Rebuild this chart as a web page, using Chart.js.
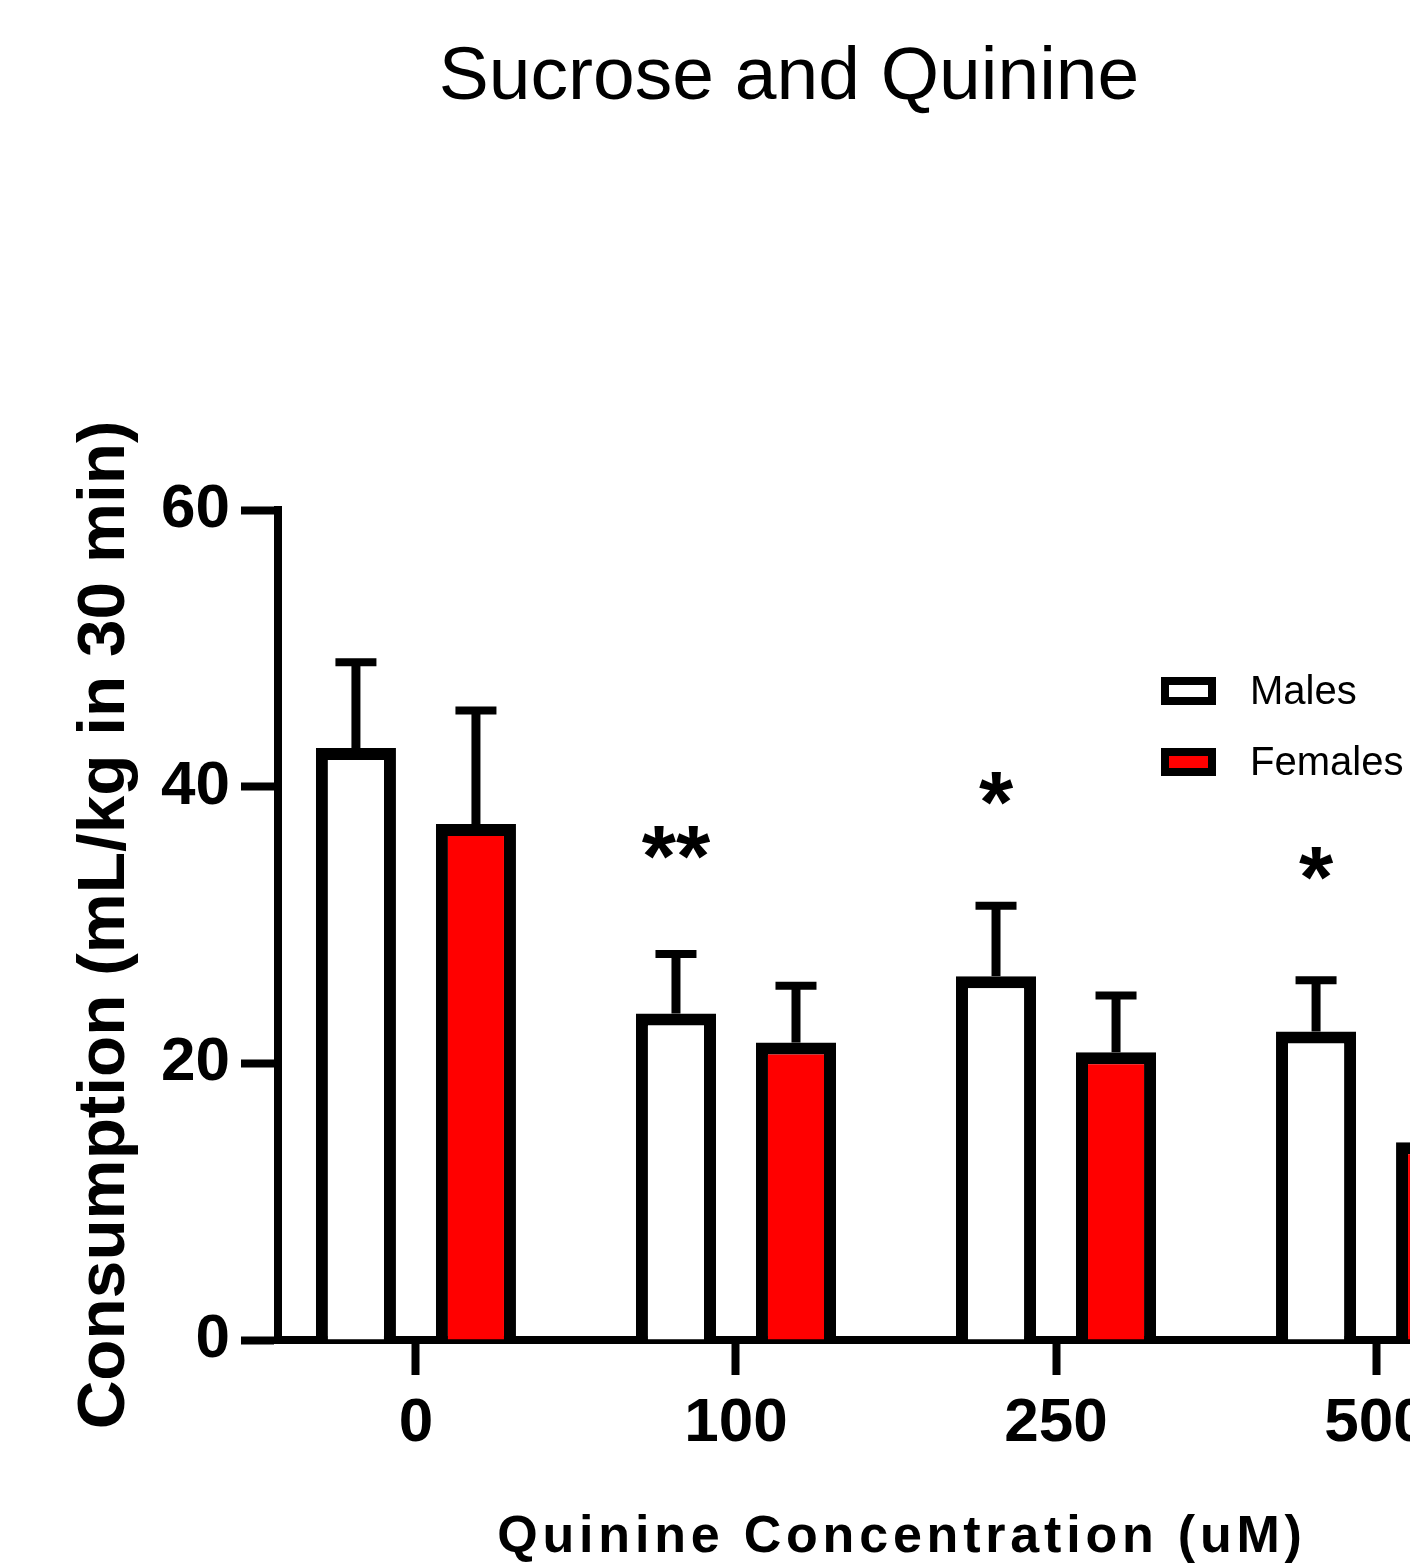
<!DOCTYPE html>
<html>
<head>
<meta charset="utf-8">
<script src="https://cdn.jsdelivr.net/npm/chart.js@4.4.1/dist/chart.umd.min.js"></script>
<style>
  html, body { margin: 0; padding: 0; background: #fff; overflow: hidden; }
</style>
</head>
<body>
<canvas id="chart" width="1578" height="1600" style="width:1578px;height:1600px;display:block"></canvas>
<script>
// quinine concentrations (uM) and group means / SEM
const categories = ["0", "100", "250", "500"];
const malesMean = [42.8, 23.6, 26.3, 22.3];
const malesSem = [6.2, 4.3, 5.1, 3.7];
const femalesMean = [37.3, 21.5, 20.8, 14.3];
const femalesSem = [8.2, 4.1, 4.1, 4.0];
// significance marks over the male bars
const sigMarks = ["", "**", "*", "*"];
const sigLevel = [null, 32.8, 36.7, 31.3];

const FONT = "'Liberation Sans', Arial, sans-serif";
Chart.defaults.font.family = FONT;
Chart.defaults.color = "#000";

const toPoints = (arr) => arr.map((v, i) => ({ x: i, y: v }));

const errorBars = {
  id: "errorBars",
  afterDatasetsDraw(chart) {
    const ctx = chart.ctx;
    const y = chart.scales.y;
    chart.data.datasets.forEach((ds, di) => {
      const meta = chart.getDatasetMeta(di);
      meta.data.forEach((bar, i) => {
        const top = y.getPixelForValue(ds.data[i].y + ds.sem[i]);
        ctx.save();
        ctx.strokeStyle = "#000";
        ctx.lineWidth = 9;
        ctx.beginPath();
        ctx.moveTo(bar.x, bar.y);
        ctx.lineTo(bar.x, top);
        ctx.stroke();
        ctx.lineWidth = 8;
        ctx.beginPath();
        ctx.moveTo(bar.x - 20.5, top);
        ctx.lineTo(bar.x + 20.5, top);
        ctx.stroke();
        ctx.restore();
      });
    });
  }
};

const sigStars = {
  id: "sigStars",
  afterDatasetsDraw(chart) {
    const ctx = chart.ctx;
    const y = chart.scales.y;
    const meta = chart.getDatasetMeta(0);
    ctx.save();
    ctx.fillStyle = "#000";
    ctx.font = "bold 88px " + FONT;
    ctx.textAlign = "center";
    ctx.textBaseline = "alphabetic";
    sigMarks.forEach((m, i) => {
      if (!m) return;
      ctx.fillText(m, meta.data[i].x, y.getPixelForValue(sigLevel[i]));
    });
    ctx.restore();
  }
};

const boxLegend = {
  id: "boxLegend",
  afterDraw(chart) {
    const ctx = chart.ctx;
    ctx.save();
    chart.data.datasets.forEach((ds, i) => {
      const yc = 691 + i * 71;
      ctx.fillStyle = "#000";
      ctx.fillRect(1161, yc - 14, 55, 28);
      ctx.fillStyle = ds.backgroundColor;
      ctx.fillRect(1169, yc - 6, 39, 12);
      ctx.fillStyle = "#000";
      ctx.font = "40px " + FONT;
      ctx.textAlign = "left";
      ctx.textBaseline = "middle";
      ctx.fillText(ds.label, 1250, yc + 2);
    });
    ctx.restore();
  }
};

const xTitle = {
  id: "xTitle",
  afterDraw(chart) {
    const ctx = chart.ctx;
    const a = chart.chartArea;
    ctx.save();
    ctx.fillStyle = "#000";
    ctx.font = "bold 52px " + FONT;
    ctx.letterSpacing = "4.8px";
    ctx.textAlign = "center";
    ctx.textBaseline = "alphabetic";
    ctx.fillText("Quinine Concentration (uM)", (a.left + a.right) / 2 + 6, 1552);
    ctx.restore();
  }
};

new Chart(document.getElementById("chart"), {
  type: "bar",
  data: {
    datasets: [
      {
        label: "Males",
        data: toPoints(malesMean),
        sem: malesSem,
        backgroundColor: "#ffffff",
        borderColor: "#000000",
        borderWidth: 12,
      },
      {
        label: "Females",
        data: toPoints(femalesMean),
        sem: femalesSem,
        backgroundColor: "#ff0000",
        borderColor: "#000000",
        borderWidth: 12,
      },
    ],
  },
  options: {
    responsive: false,
    animation: false,
    events: [],
    categoryPercentage: 0.75,
    barPercentage: 0.667,
    layout: { padding: { left: 64, right: 64, top: 0, bottom: 0 } },
    plugins: {
      legend: { display: false },
      tooltip: { enabled: false },
      title: {
        display: true,
        text: "Sucrose and Quinine",
        color: "#000",
        font: { size: 75, weight: "normal", lineHeight: 1.2 },
        padding: { top: 33, bottom: 387 },
      },
    },
    scales: {
      x: {
        type: "linear",
        offset: false,
        min: -0.431,
        max: 3.431,
        afterBuildTicks: (scale) => {
          scale.ticks = categories.map((c, i) => ({ value: i }));
        },
        afterFit: (scale) => { scale.height = 260; },
        ticks: {
          callback: (v) => categories[v],
          font: { size: 62, weight: "bold" },
          padding: 12,
          maxRotation: 0,
          autoSkip: false,
        },
        grid: {
          offset: false,
          drawOnChartArea: false,
          drawTicks: true,
          tickLength: 35,
          tickWidth: 8,
          tickColor: "#000",
        },
        border: { display: true, width: 8, color: "#000" },
      },
      y: {
        min: 0,
        max: 60,
        afterFit: (scale) => { scale.width = 214; },
        ticks: {
          stepSize: 20,
          font: { size: 62, weight: "bold" },
          padding: 11,
        },
        grid: {
          drawOnChartArea: false,
          drawTicks: true,
          tickLength: 37,
          tickWidth: 8,
          tickColor: "#000",
        },
        border: { display: true, width: 8, color: "#000" },
        title: {
          display: true,
          text: "Consumption (mL/kg in 30 min)",
          font: { size: 67.5, weight: "bold", lineHeight: 1 },
          padding: { top: 8, bottom: 0 },
        },
      },
    },
  },
  plugins: [errorBars, sigStars, boxLegend, xTitle],
});
</script>
</body>
</html>
